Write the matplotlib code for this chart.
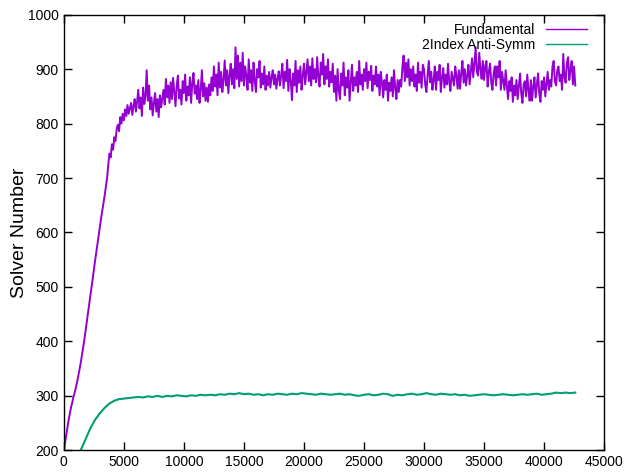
import matplotlib.pyplot as plt

# gnuplot-ish look: helvetica-like font, inward ticks on all four sides
plt.rcParams["font.family"] = ["Liberation Sans", "DejaVu Sans"]

fund_step = list(range(0, 42601, 100))
fund_val = [
    200, 214, 228, 243, 256, 268, 279, 288, 298, 306,
    315, 325, 336, 348, 360, 374, 388, 402, 418, 433,
    450, 466, 483, 498, 515, 531, 548, 563, 579, 595,
    610, 626, 640, 655, 668, 684, 700, 724, 745, 738,
    762, 752, 775, 768, 790, 798, 786, 812, 800, 818,
    806, 826, 814, 834, 818, 828, 838, 816, 832, 845,
    822, 840, 862, 828, 848, 814, 866, 836, 850, 898,
    842, 870, 826, 848, 815, 838, 856, 822, 845, 812,
    852, 830, 846, 862, 835, 882, 848, 870, 838, 876,
    845, 884, 858, 832, 870, 888, 846, 862, 835, 878,
    856, 890, 842, 868, 852, 885, 838, 875, 893, 855,
    870, 845, 880, 838, 862, 898, 850, 874, 842, 866,
    840, 872, 852, 885, 860, 905, 868, 890, 852, 912,
    866, 895, 858, 880, 916, 870, 898, 856, 888, 910,
    872, 900, 865, 940, 882, 925, 868, 912, 878, 930,
    870, 905, 888, 862, 918, 875, 898, 860, 912, 880,
    858, 900, 885, 915, 866, 892, 872, 905, 862, 888,
    870, 895, 866, 885, 898, 872, 890, 864, 882, 896,
    870, 888, 910, 865, 895, 878, 917, 860, 900, 880,
    843, 892, 870, 915, 858, 898, 875, 905, 862, 888,
    910, 872, 895, 918, 878, 905, 870, 920, 882, 900,
    876, 922, 885, 868, 912, 890, 928, 872, 905, 882,
    918, 868, 895, 876, 910, 858, 888, 842, 900, 862,
    845, 892, 870, 912, 852, 885, 866, 898, 842, 875,
    908, 860, 885, 870, 895, 858, 915, 872, 890, 862,
    900, 878, 912, 865, 895, 880, 906, 860, 888, 872,
    905, 868, 890, 852, 895, 875, 848, 880, 862, 890,
    842, 875, 860, 885, 850, 898, 866, 845, 880, 858,
    880, 868, 905, 925, 878, 912, 885, 918, 870, 900,
    878, 905, 868, 890, 860, 912, 875, 895, 866, 908,
    900, 872, 858, 890, 915, 876, 895, 862, 880, 905,
    862, 895, 880, 908, 858, 885, 902, 866, 890, 872,
    910, 876, 860, 895, 882, 870, 905, 888, 864, 898,
    864, 892, 915, 875, 900, 870, 888, 908, 872, 895,
    920, 885, 910, 940, 895, 888, 930, 900, 882, 915,
    880, 905, 915, 868, 895, 910, 876, 862, 892, 905,
    870, 905, 885, 915, 862, 895, 878, 862, 898, 870,
    845, 878, 860, 885, 840, 870, 852, 880, 845, 868,
    892, 855, 838, 872, 878, 850, 890, 862, 842, 880,
    842, 868, 885, 848, 872, 892, 855, 840, 878, 862,
    885, 850, 872, 895, 862, 880, 868, 905, 915, 878,
    870, 898, 905, 878, 890, 862, 928, 885, 875, 912,
    922, 880, 900, 915, 872, 905, 870,
]

# 2Index Anti-Symm run, sampled every 400 steps
anti_step = list(range(1400, 42601, 400))
anti_val = [
    200, 220, 240, 256, 268, 278, 286, 291, 294, 295,
    296, 297, 298, 297, 299, 298, 300, 298, 300, 299,
    301, 300, 299, 301, 300, 302, 301, 302, 301, 303,
    302, 304, 303, 305, 303, 304, 302, 303, 301, 303,
    302, 304, 303, 302, 304, 303, 305, 304, 303, 302,
    304, 303, 302, 303, 304, 302, 303, 301, 300, 302,
    303, 301, 302, 304, 303, 300, 302, 301, 303, 304,
    302, 303, 305, 303, 302, 304, 303, 302, 303, 301,
    302, 300, 301, 302, 303, 302, 301, 302, 303, 302,
    301, 302, 303, 302, 303, 304, 302, 303, 304, 306,
    305, 306, 305, 306,
]

fig = plt.figure(figsize=(6.26, 4.74), dpi=100)
ax = fig.add_axes([0.102, 0.05, 0.863, 0.919])

ax.plot(fund_step, fund_val, color="#9400d3", lw=1.4, label="Fundamental")
ax.plot(anti_step, anti_val, color="#009e73", lw=1.5, label="2Index Anti-Symm")

ax.set_xlim(0, 45000)
ax.set_ylim(200, 1000)
ax.set_xticks(range(0, 45001, 5000))
ax.set_yticks(range(200, 1001, 100))
ax.tick_params(direction="in", top=True, right=True, length=6, width=1, labelsize=10)
for s in ax.spines.values():
    s.set_linewidth(1)
ax.set_ylabel("Solver Number", fontsize=14, labelpad=0)

leg = ax.legend(loc="upper right", bbox_to_anchor=(0.987, 1.005), frameon=False,
                markerfirst=False, fontsize=10, handlelength=2.9,
                labelspacing=0.05, borderaxespad=0.35)
for line in leg.get_lines():
    line.set_linewidth(1.0)

fig.savefig("out.png", dpi=100)
